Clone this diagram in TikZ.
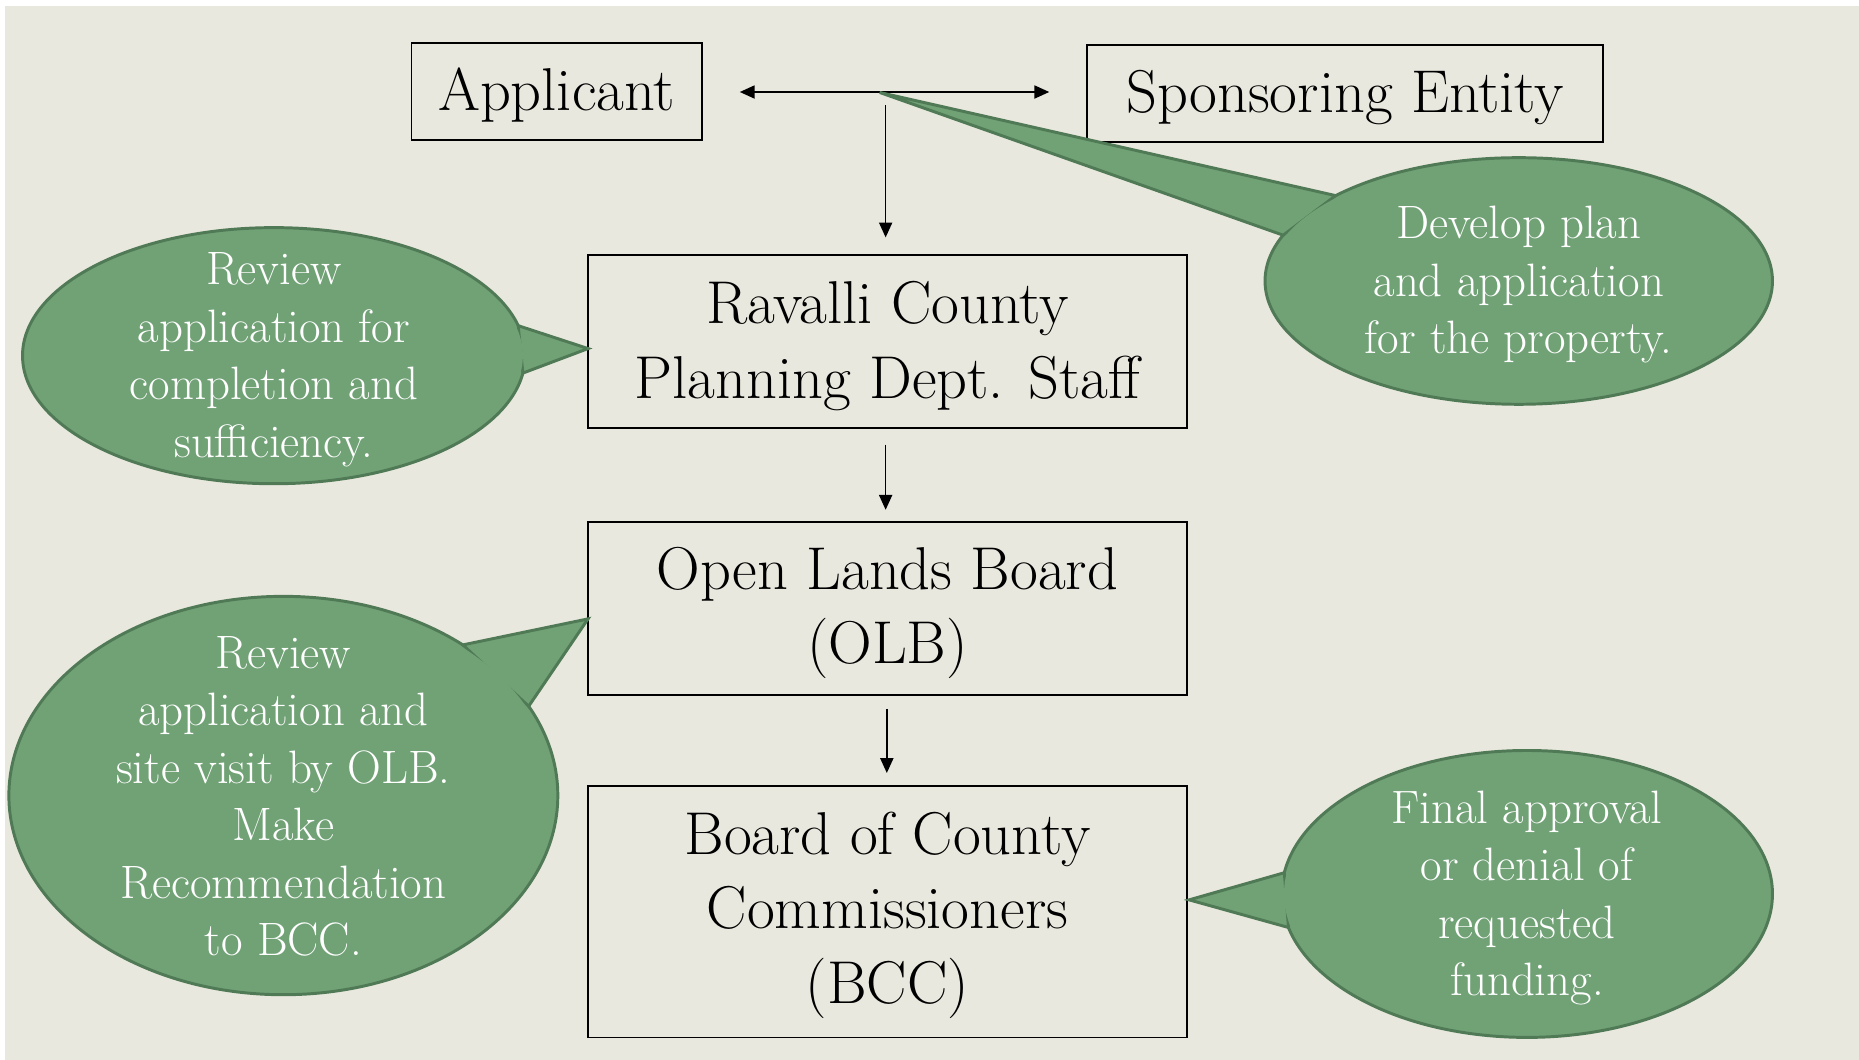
\documentclass[tikz,border=0pt]{standalone}
\usetikzlibrary{shapes.geometric,arrows.meta}
\definecolor{bg}{RGB}{233,232,222}
\definecolor{gfill}{RGB}{113,162,118}
\definecolor{gline}{RGB}{80,122,86}
\begin{document}
\begin{tikzpicture}[x=1pt,y=-1pt,
  box/.style={draw=black, line width=1.5pt, rectangle, inner sep=0pt},
  boxtext/.style={align=center, inner sep=0pt, font=\fontsize{51}{63}\selectfont},
  bubble/.style={ellipse, draw=gline, fill=gfill, line width=2.5pt, inner sep=0pt, outer sep=0pt},
  bubblefill/.style={ellipse, fill=gfill, inner sep=0pt, outer sep=0pt},
  bubbletext/.style={text=white, align=center, inner sep=0pt, font=\fontsize{39.5}{48.5}\selectfont},
  pointer/.style={draw=gline, line width=2.5pt, line join=miter, fill=gfill},
  flow/.style={line width=1.4pt, -{Triangle[length=12.5pt,width=11pt]}}
  ]
% background
\path[use as bounding box, fill=white] (0,0) rectangle (1568,894);
\fill[bg] (4,5) rectangle (1568,894);

% boxes
\node[box, minimum width=245pt, minimum height=82pt] (app) at (469.5,77) {};
\node[box, minimum width=435pt, minimum height=82pt] (spon) at (1134.5,79) {};
\node[box, minimum width=505pt, minimum height=146pt] (rav) at (748.5,288) {};
\node[box, minimum width=505pt, minimum height=146pt] (olb) at (748.5,513) {};
\node[box, minimum width=505pt, minimum height=212pt] (bcc) at (748.5,769) {};
\node[boxtext] (appt) at ([yshift=-3pt]app.center) {Applicant};
\node[boxtext] (spont) at ([yshift=-3pt]spon.center) {Sponsoring Entity};
\node[boxtext] (ravt) at ([yshift=-4pt]rav.center) {Ravalli County\\Planning Dept. Staff};
\node[boxtext] (olbt) at ([yshift=-4pt]olb.center) {Open Lands Board\\(OLB)};
\node[boxtext] (bcct) at ([yshift=-3pt]bcc.center) {Board of County\\Commissioners\\(BCC)};

% connectors
\coordinate (jl) at (624,77.6);
\coordinate (jr) at (885,77.6);
\coordinate (jv) at (747,88.6);
\draw[line width=1.4pt, {Triangle[length=12.5pt,width=11pt]}-{Triangle[length=12.5pt,width=11pt]}] (jl) -- (jr);
\draw[flow, shorten >=14pt] (jv) -- (jv |- rav.north);
\draw[flow, shorten <=14pt, shorten >=10pt] (747,361) -- (747,440);
\draw[flow, shorten <=12pt, shorten >=11pt] (748,586) -- (748,663);
\coordinate (tip1) at (742,78);
\coordinate (tip2) at (496,294);
\coordinate (tip3) at (496,522);
\coordinate (tip4) at (1003,759);

% callout 1 (top right)
\node[bubble, minimum width=428pt, minimum height=208pt] (c1) at (1281,237) {};
\draw[pointer] (c1.155.9) -- (tip1) -- (c1.169.7) -- cycle;
\node[bubblefill, minimum width=424pt, minimum height=204pt] at (c1.center) {};
\node[bubbletext] (t1) at ([yshift=-3pt]c1.center) {Develop plan\\and application\\for the property.};

% callout 2 (left top)
\node[bubble, minimum width=424pt, minimum height=216pt] (c2) at (231,300) {};
\draw[pointer] (c2.7.5) -- (tip2) -- (c2.-4.9) -- cycle;
\node[bubblefill, minimum width=420pt, minimum height=212pt] at (c2.center) {};
\node[bubbletext] (t2) at ([yshift=-3.5pt]c2.center) {Review\\application for\\completion and\\sufficiency.};

% callout 3 (left bottom)
\node[bubble, minimum width=463pt, minimum height=336pt] (c3) at (239,671) {};
\draw[pointer] (c3.40.7) -- (tip3) -- (c3.20.5) -- cycle;
\node[bubblefill, minimum width=459pt, minimum height=332pt] at (c3.center) {};
\node[bubbletext] (t3) at ([yshift=-0.5pt]c3.center) {Review\\application and\\site visit by OLB.\\Make\\Recommendation\\to BCC.};

% callout 4 (bottom right)
\node[bubble, minimum width=414pt, minimum height=242pt] (c4) at (1288,754) {};
\draw[pointer] (c4.175.3) -- (tip4) -- (c4.-172.5) -- cycle;
\node[bubblefill, minimum width=410pt, minimum height=238pt] at (c4.center) {};
\node[bubbletext] (t4) at ([yshift=-3.5pt]c4.center) {Final approval\\or denial of\\requested\\funding.};
\end{tikzpicture}
\end{document}
